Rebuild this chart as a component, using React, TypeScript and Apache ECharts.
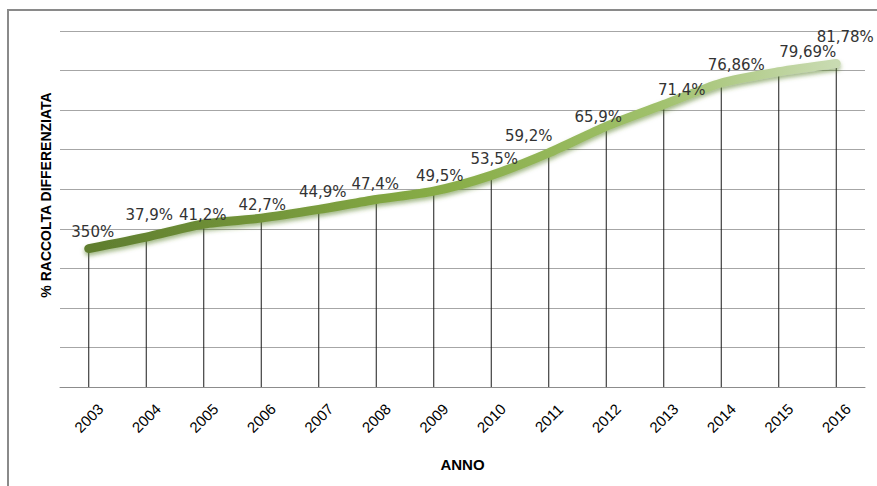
import React, { useEffect, useRef } from "react";
import * as echarts from "echarts";

const years = ["2003", "2004", "2005", "2006", "2007", "2008", "2009", "2010", "2011", "2012", "2013", "2014", "2015", "2016"];
const values = [35.0, 37.9, 41.2, 42.7, 44.9, 47.4, 49.5, 53.5, 59.2, 65.9, 71.4, 76.86, 79.69, 81.78];
const labels = ["350%", "37,9%", "41,2%", "42,7%", "44,9%", "47,4%", "49,5%", "53,5%", "59,2%", "65,9%", "71,4%", "76,86%", "79,69%", "81,78%"];
const yTitle = "% RACCOLTA DIFFERENZIATA";
const xTitle = "ANNO";

export default function App() {
  const ref = useRef<HTMLDivElement>(null);
  useEffect(() => {
    if (!ref.current) return;
    // manual label placements (pixel offsets from point, label centre)
    const labelShift: [number, number][] = [
      [4, -17], [3, -22], [-1, -9], [1, -13], [4, -17], [-1, -16], [6, -15],
      [3, -16], [-20, -17], [-8, -9], [18, -15], [15, -18], [29, -20], [9, -27],
    ];
    const chart = echarts.init(ref.current, null, { renderer: "svg" });
    chart.setOption({
      animation: false,
      backgroundColor: "#ffffff",
      grid: { left: 60, right: 12, top: 31, bottom: 99 },
      xAxis: {
        type: "category",
        data: years,
        boundaryGap: true,
        axisLine: { lineStyle: { color: "#8c8c8c", width: 1 } },
        axisTick: { show: false },
        axisLabel: {
          rotate: 45,
          color: "#000",
          fontFamily: "Liberation Sans",
          fontSize: 15,
          margin: 31,
          align: "center",
          verticalAlign: "middle",
        },
        name: xTitle,
        nameLocation: "middle",
        nameGap: 70,
        nameTextStyle: { fontFamily: "Liberation Sans", fontSize: 15, fontWeight: "bold", color: "#000" },
      },
      yAxis: {
        type: "value",
        min: 0,
        max: 90,
        interval: 10,
        axisLine: { show: false },
        axisTick: { show: false },
        axisLabel: { show: false },
        splitLine: { lineStyle: { color: "#a6a6a6", width: 1 } },
      },
      graphic: [
        {
          type: "rect",
          shape: { x: 8, y: 10, width: 900, height: 500 },
          style: { fill: "none", stroke: "#8a8a8a", lineWidth: 2 },
          silent: true,
        },
        {
          type: "text",
          x: 46,
          y: 195,
          rotation: Math.PI / 2,
          style: {
            text: yTitle,
            fontFamily: "Liberation Sans",
            fontSize: 14,
            fontWeight: "bold",
            fill: "#000",
            align: "center",
            verticalAlign: "middle",
          },
        },
      ],
      series: [
        {
          type: "bar",
          data: values,
          barWidth: 1,
          itemStyle: { color: "#1a1a1a" },
          z: 1,
        },
        {
          type: "line",
          data: values.map((v, i) => ({
            value: v,
            label: { offset: [labelShift[i][0], labelShift[i][1] + 8] },
          })),
          smooth: 0.25,
          symbol: "circle",
          symbolSize: 1,
          showSymbol: true,
          itemStyle: { opacity: 0 },
          z: 3,
          lineStyle: {
            width: 9,
            cap: "round",
            color: new echarts.graphic.LinearGradient(0, 0, 1, 0, [
              { offset: 0, color: "#5f7d2e" },
              { offset: 0.45, color: "#86ab45" },
              { offset: 0.75, color: "#9fc06a" },
              { offset: 1, color: "#c9dbb2" },
            ]),
            shadowColor: "rgba(90,130,40,0.55)",
            shadowBlur: 4,
            shadowOffsetY: 3,
          },
          label: {
            show: true,
            position: "top",
            distance: 0,
            formatter: (p: any) => labels[p.dataIndex],
            fontFamily: "DejaVu Sans",
            fontSize: 15,
            color: "#333333",
            opacity: 1,
          },
        },
      ],
    });
    return () => chart.dispose();
  }, []);
  return (
    <div
      ref={ref}
      style={{ position: "fixed", left: 0, top: 0, width: 877, height: 486 }}
    />
  );
}
